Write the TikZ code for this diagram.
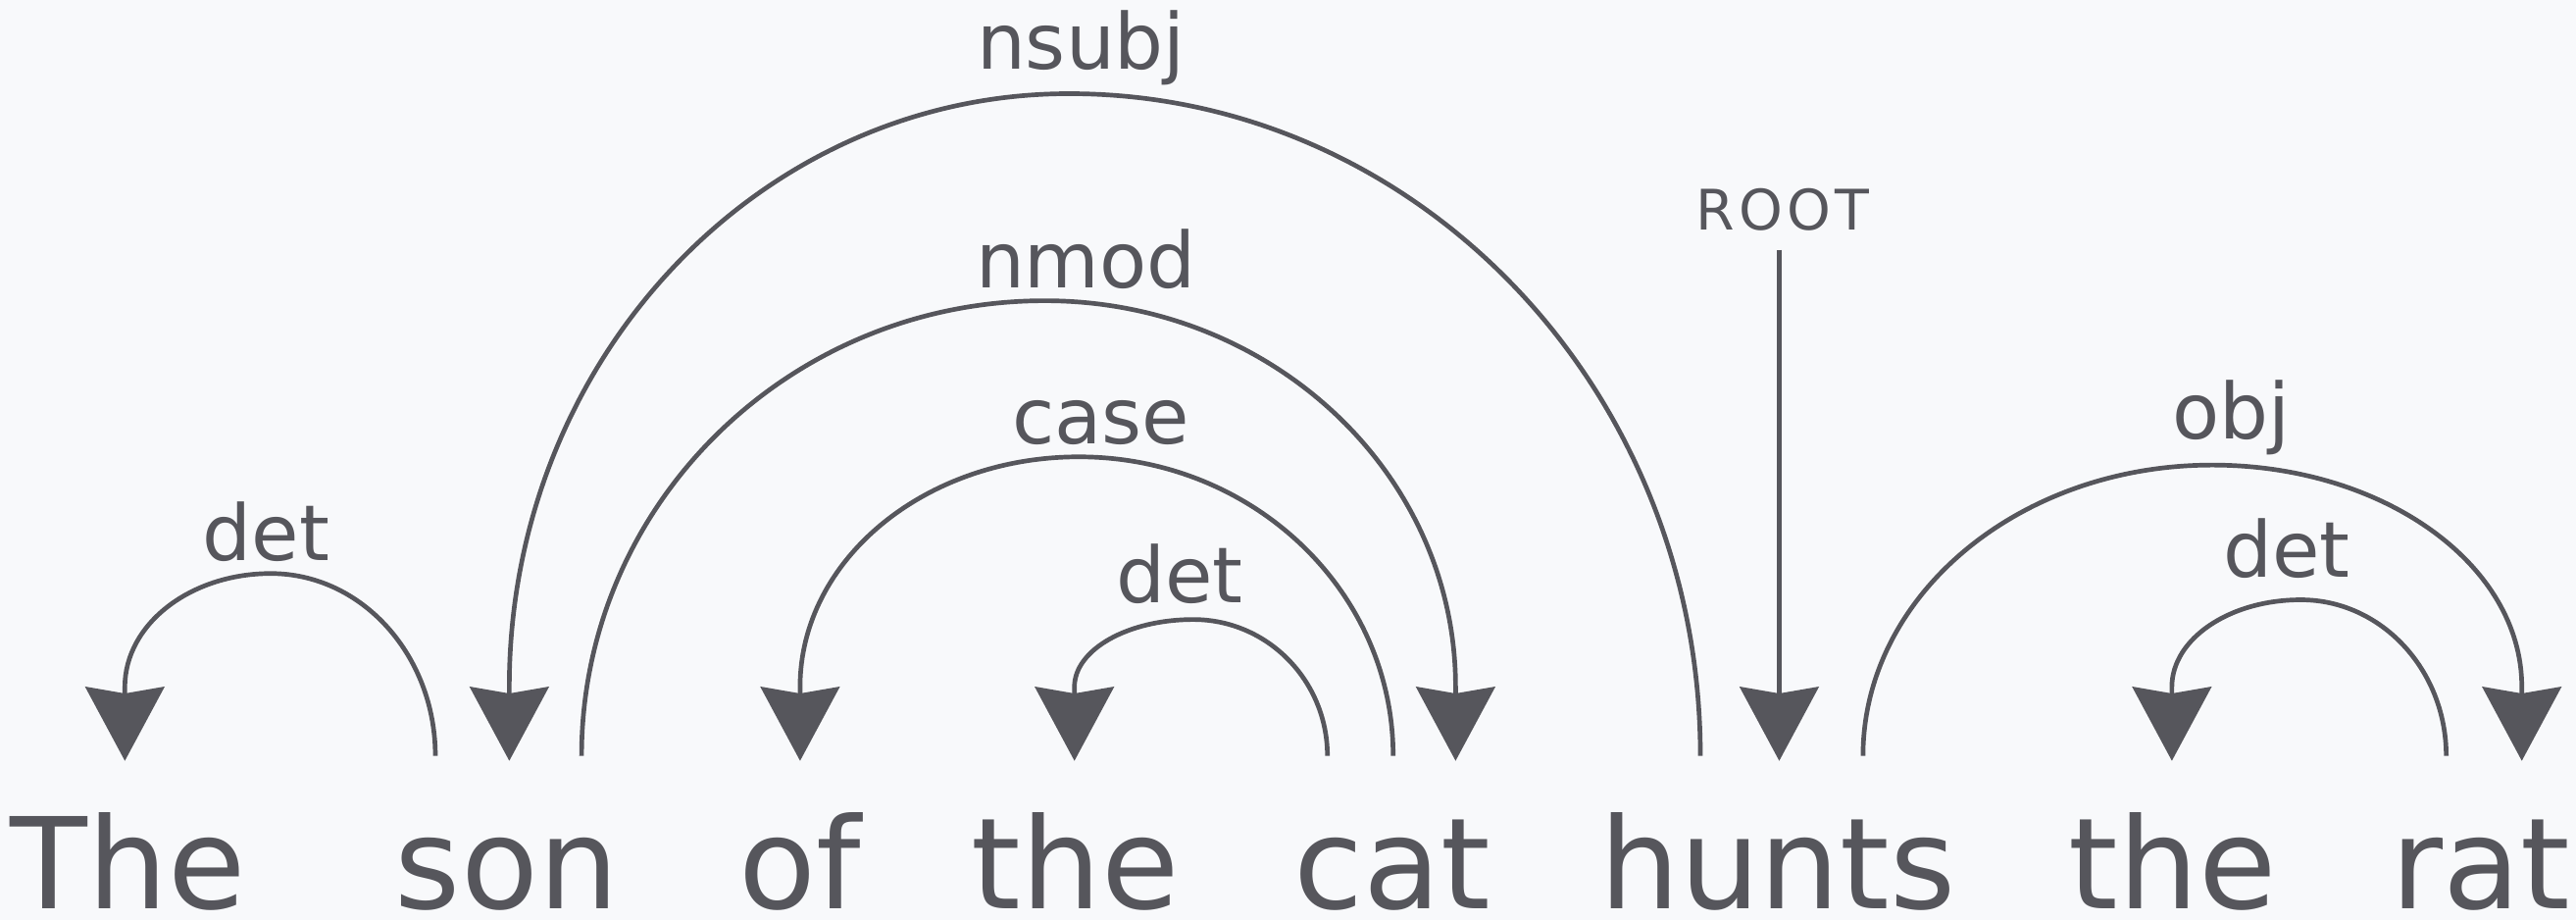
\documentclass[tikz,border=0pt]{standalone}
\usepackage{fontspec}
\setmainfont{DejaVu Sans}
\usetikzlibrary{arrows.meta,calc}
\definecolor{ink}{HTML}{56565C}
\definecolor{bg}{HTML}{F8F9FB}
\tikzset{
  word/.style={anchor=base, inner sep=0pt, text depth=0pt, text=ink, font=\fontsize{77}{80}\selectfont},
  lab/.style={anchor=base, inner sep=0pt, text=ink, font=\fontsize{47}{48}\selectfont},
  rootlab/.style={anchor=base, inner sep=0pt, text=ink, font=\fontsize{34}{36}\selectfont},
  dep/.style={draw=ink, line width=2.8pt, -{Stealth[length=45pt, width=48pt, inset=4pt]}},
  arcto/.style={to path={let \p1=(\tikztostart), \p2=(\tikztotarget), \n1={(\x2-\x1)*0.53}, \n2={(\x2-\x1)*0.47}, \n3={\y1+#1pt} in
    .. controls (\x1,{\y1+0.5523*#1pt}) and ({\x1+0.4477*\n1},\n3) .. ({\x1+\n1},\n3)
    .. controls ({\x1+\n1+0.5523*\n2},\n3) and (\x2,{\y2+0.5523*(\n3-\y2)}) .. (\tikztotarget)}}
}
\begin{document}
\begin{tikzpicture}[x=1pt,y=-1pt]
\fill[bg] (0,0) rectangle (1568,560);
\useasboundingbox (0,0) rectangle (1568,560);
% words
\node[word] (w1) at (78,553) {The};
\node[word] (w2) at (308.5,553) {son};
\node[word] (w3) at (487,553) {of};
\node[word] (w4) at (654.5,553) {the};
\node[word] (w5) at (847.5,553) {cat};
\node[word] (w6) at (1082,553) {hunts};
\node[word] (w7) at (1322.5,553) {the};
\node[word] (w8) at (1510,553) {rat};
% arc start points
\coordinate (sonL) at (265,460);
\coordinate (sonR) at (354,460);
\coordinate (catL) at (808,460);
\coordinate (catM) at (848,460);
\coordinate (huntsL) at (1035,460);
\coordinate (huntsR) at (1134,460);
\coordinate (ratL) at (1489,460);
% arrow bases
\coordinate (bThe) at (76,418);
\coordinate (bSon) at (310,418);
\coordinate (bOf) at (487,418);
\coordinate (bThe2) at (654,418);
\coordinate (bCat) at (886,418);
\coordinate (bThe3) at (1322,418);
\coordinate (bRat) at (1535,418);
% arrow tips
\coordinate (tThe) at (76,463);
\coordinate (tSon) at (310,463);
\coordinate (tOf) at (487,463);
\coordinate (tThe2) at (654,463);
\coordinate (tCat) at (886,463);
\coordinate (tHunts) at (1083,463);
\coordinate (tThe3) at (1322,463);
\coordinate (tRat) at (1535,463);
\coordinate (rootTop) at (1083,152);
% arcs
\draw[dep] (sonL) to[arcto=111] (bThe) -- (tThe);
\draw[dep] (huntsL) to[arcto=403] (bSon) -- (tSon);
\draw[dep] (sonR) to[arcto=277] (bCat) -- (tCat);
\draw[dep] (catM) to[arcto=182] (bOf) -- (tOf);
\draw[dep] (catL) to[arcto=83] (bThe2) -- (tThe2);
\draw[dep] (rootTop) -- (tHunts);
\draw[dep] (huntsR) to[arcto=177] (bRat) -- (tRat);
\draw[dep] (ratL) to[arcto=95] (bThe3) -- (tThe3);
% labels
\node[lab] (l1) at (162,341) {det};
\node[lab] (l2) at (658,42) {nsubj};
\node[lab] (l3) at (661,175) {nmod};
\node[lab] (l4) at (670,270) {case};
\node[lab] (l5) at (718,367) {det};
\node[rootlab] (l6) at (1085,140) {R\kern2.5pt O\kern2.5pt O\kern2.5pt T};
\node[lab] (l7) at (1358,267) {obj};
\node[lab] (l8) at (1392,351) {det};
\end{tikzpicture}
\end{document}
